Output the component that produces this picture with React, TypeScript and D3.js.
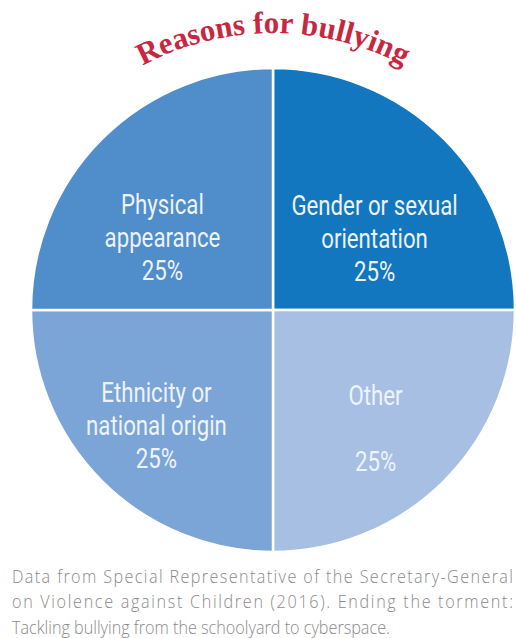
import React from "react";
import * as d3 from "d3";

const categories = [
  "Gender or sexual orientation",
  "Other",
  "Ethnicity or national origin",
  "Physical appearance",
];
const values = [25, 25, 25, 25];
const labelLines = [
  ["Gender or sexual", "orientation", "25%"],
  ["Other", "", "25%"],
  ["Ethnicity or", "national origin", "25%"],
  ["Physical", "appearance", "25%"],
];
const title = "Reasons for bullying";
const sourceLines = [
  "Data from Special Representative of the Secretary-General",
  "on Violence against Children (2016). Ending the torment:",
  "Tackling bullying from the schoolyard to cyberspace.",
];

const colors = ["#1277bf", "#a7bfe3", "#7ba5d7", "#4f8dcb"];
const nudges = [
  [-1, 30],
  [0, 14],
  [-14, 11],
  [-8, 29],
];
const justify = [true, true, false];

const W = 516;
const H = 638;
const cx = 273;
const cy = 310;
const R = 242;
const srcScale = 0.9;

export default function App() {
  const pie = d3
    .pie<number>()
    .sort(null)
    .value((d) => d)
    .startAngle(0)
    .endAngle(2 * Math.PI);
  const arcs = pie(values);
  const arc = d3.arc<d3.PieArcDatum<number>>().innerRadius(0).outerRadius(R);
  const labelArc = d3
    .arc<d3.PieArcDatum<number>>()
    .innerRadius(145)
    .outerRadius(145);

  const titleR = 277;
  const titlePath = `M ${cx - titleR} ${cy} A ${titleR} ${titleR} 0 0 1 ${cx + titleR} ${cy}`;

  return (
    <svg
      width={W}
      height={H}
      viewBox={`0 0 ${W} ${H}`}
      style={{ position: "absolute", left: 0, top: 0, background: "#fff" }}
    >
      <defs>
        <path id="titleArc" d={titlePath} fill="none" />
      </defs>
      <text
        fontFamily="'Liberation Serif', 'DejaVu Serif', serif"
        fontWeight="bold"
        fontSize={31}
        fill="#c8283f"
      >
        <textPath href="#titleArc" startOffset="50%" textAnchor="middle">
          {title}
        </textPath>
      </text>
      <g transform={`translate(${cx},${cy})`}>
        {arcs.map((a, i) => (
          <path
            key={categories[i]}
            d={arc(a) || ""}
            fill={colors[i]}
            stroke="#ffffff"
            strokeWidth={2.5}
          />
        ))}
        {arcs.map((a, i) => {
          const [x, y] = labelArc.centroid(a);
          const lx = x + nudges[i][0];
          const ly = y + nudges[i][1];
          const lines = labelLines[i];
          return (
            <g
              key={"l" + i}
              transform={`translate(${lx},${ly}) scale(0.78,1)`}
            >
              {lines.map((t, j) => (
                <text
                  key={j}
                  x={0}
                  y={(j - (lines.length - 1) / 2) * 33 + 11}
                  textAnchor="middle"
                  fontFamily="Roboto, 'Open Sans', sans-serif"
                  fontSize={28.5}
                  fill="#eef3fa"
                >
                  {t}
                </text>
              ))}
            </g>
          );
        })}
      </g>
      <g transform={`translate(12,0) scale(${srcScale},1)`}>
        {sourceLines.map((t, i) => (
          <text
            key={"s" + i}
            x={0}
            y={583 + i * 25.5}
            fontFamily="'Open Sans', sans-serif"
            fontWeight={300}
            fontSize={18}
            fill="#8a8a8a"
            textLength={justify[i] ? 501 / srcScale : undefined}
            lengthAdjust="spacing"
          >
            {t}
          </text>
        ))}
      </g>
    </svg>
  );
}
